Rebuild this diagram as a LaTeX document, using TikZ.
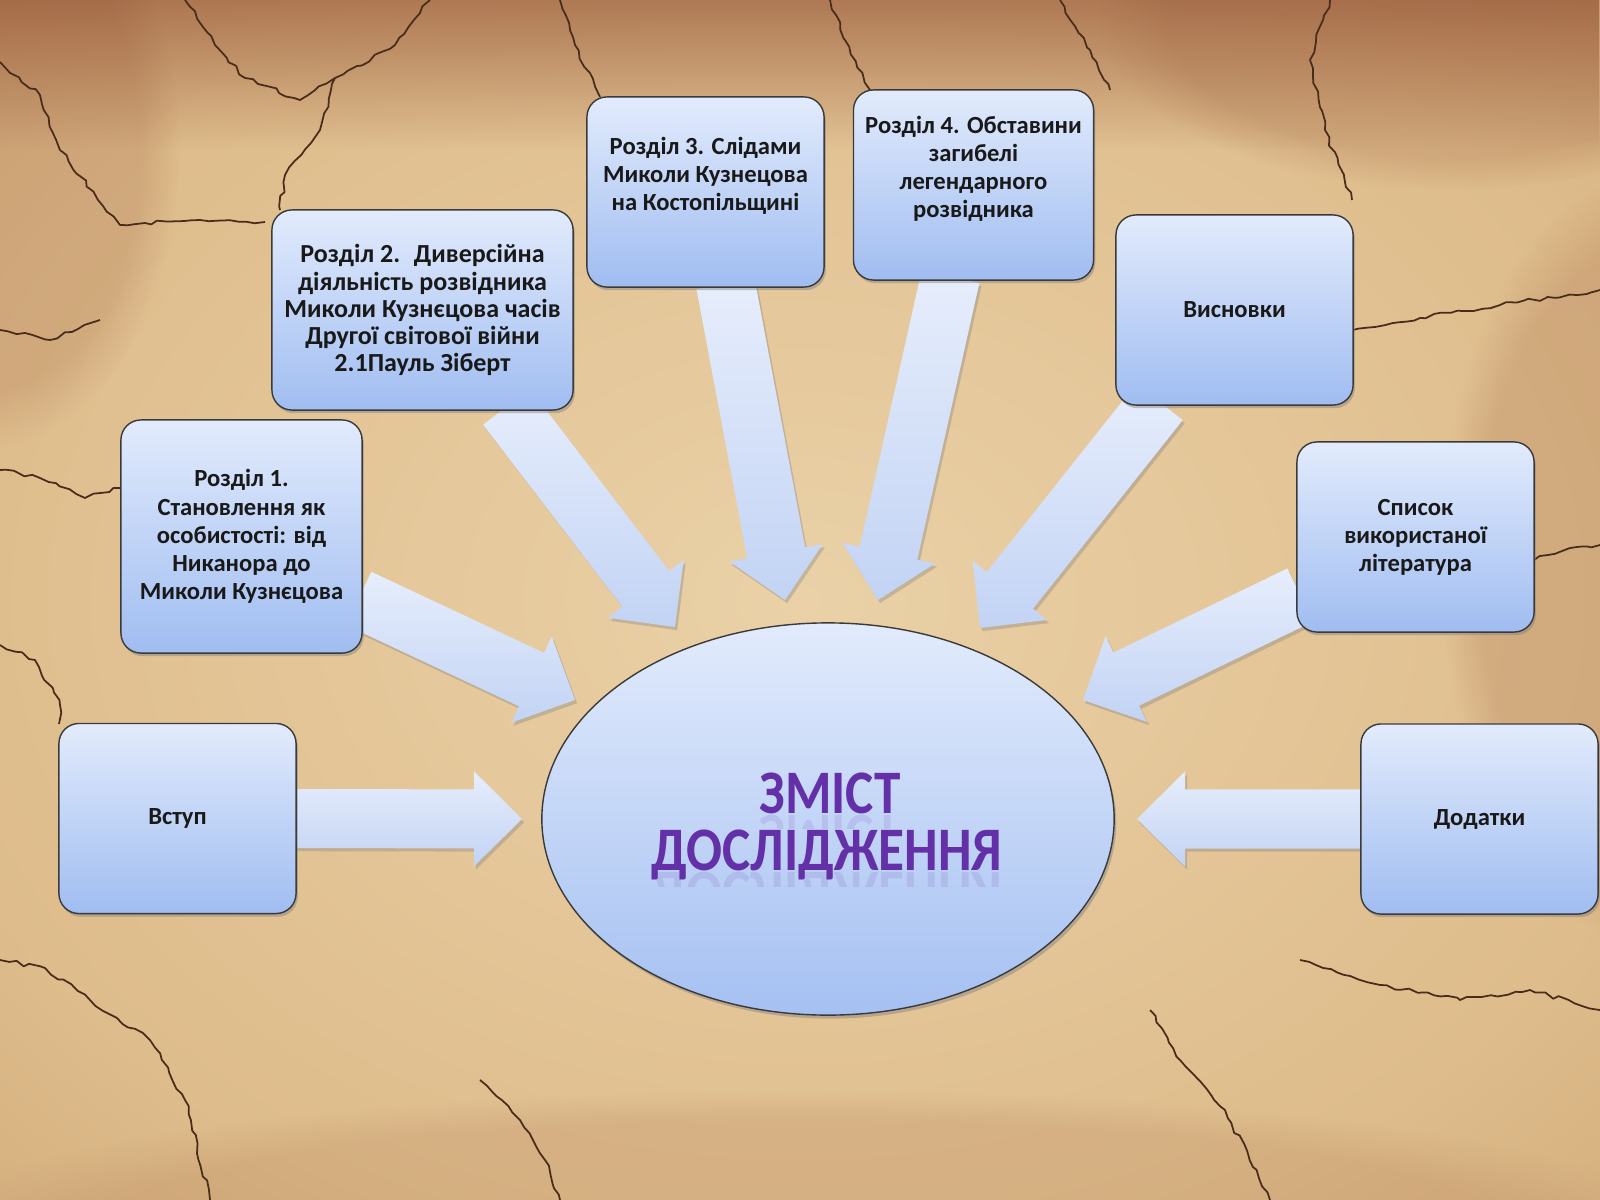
\documentclass[tikz,border=0pt]{standalone}
\usepackage{fontspec}
\usepackage{graphicx}
\setmainfont{Carlito}
\usetikzlibrary{calc,shapes.geometric,shadows,fadings,decorations.pathmorphing}

\definecolor{bglight}{HTML}{EAD1A7}
\definecolor{bgmid}{HTML}{DEBC8B}
\definecolor{bgedge}{HTML}{C69A69}
\definecolor{bgdark}{HTML}{9E6C47}
\definecolor{stain}{HTML}{8E4B2E}
\definecolor{crack}{HTML}{4A2C1B}
\definecolor{boxtop}{HTML}{E2EBFC}
\definecolor{boxbot}{HTML}{A0BDF1}
\definecolor{boxline}{HTML}{3A3A3A}
\definecolor{arrtop}{HTML}{E7EEFC}
\definecolor{arrbot}{HTML}{C2D3F4}
\definecolor{titlecol}{HTML}{6430A8}

\pgfdeclareradialshading{parchment}{\pgfpoint{0bp}{0bp}}{color(0bp)=(bglight); color(28bp)=(bgmid); color(52bp)=(bgedge); color(72bp)=(bgdark)}
\tikzfading[name=fadetop, top color=transparent!0, bottom color=transparent!100]

\pgfdeclarelayer{back}
\pgfdeclarelayer{mid}
\pgfsetlayers{back,mid,main}

\tikzset{
  topic/.style={draw=boxline, line width=0.4pt, rounded corners=0.2cm,
    top color=boxtop, bottom color=boxbot, minimum width=2.37cm,
    minimum height=1.9cm, align=center, text=black!90,
    font=\fontsize{7}{8}\selectfont\bfseries,
    drop shadow={shadow xshift=0.5pt, shadow yshift=-0.9pt, opacity=0.45}},
  hub/.style={ellipse, draw=boxline, line width=0.4pt,
    top color=boxtop, bottom color=boxbot!95!white,
    minimum width=5.72cm, minimum height=3.92cm,
    drop shadow={shadow xshift=0.6pt, shadow yshift=-1pt, opacity=0.45}},
  bigarr/.style={top color=arrtop, bottom color=arrbot,
    drop shadow={shadow xshift=0.6pt, shadow yshift=-0.9pt, opacity=0.35}},
  crackline/.style={crack, line width=0.5pt, line join=round, decorate,
    decoration={random steps, segment length=2.2pt, amplitude=0.6pt}},
  heading/.style={text=titlecol, font=\fontsize{17.6}{17.6}\selectfont\bfseries},
}

% block arrow from tail (#1) to tip (#2)
\newcommand{\bigarrow}[2]{%
  \coordinate (ta) at (#1);
  \coordinate (tb) at (#2);
  \coordinate (th) at ($(tb)!0.48cm!(ta)$);
  \path[bigarr] ($(ta)!0.295cm!90:(tb)$) -- ($(th)!0.295cm!90:(tb)$)
    -- ($(th)!0.475cm!90:(tb)$) -- (tb) -- ($(th)!0.475cm!-90:(tb)$)
    -- ($(th)!0.295cm!-90:(tb)$) -- ($(ta)!0.295cm!-90:(tb)$) -- cycle;
}

\pgfmathsetseed{17}

\begin{document}
\begin{tikzpicture}[x=0.01cm, y=-0.01cm]
	\useasboundingbox (0,0) rectangle (1600,1200);

	% parchment
	\begin{pgfonlayer}{back}
		\shade[shading=parchment] (0,0) rectangle (1600,1200);
		\fill[stain, path fading=fadetop, opacity=0.6] (0,0) rectangle (1600,150);
		\fill[stain, opacity=0.18, path fading=circle with fuzzy edge 20 percent] (1640,560) ellipse (200 and 380);
		\fill[stain, opacity=0.18, path fading=circle with fuzzy edge 20 percent] (1450,20) ellipse (350 and 170);
		\fill[stain, opacity=0.18, path fading=circle with fuzzy edge 20 percent] (-20,150) ellipse (200 and 300);
		\fill[stain, opacity=0.12, path fading=circle with fuzzy edge 20 percent] (800,1240) ellipse (900 and 150);

		\draw[crackline] (0,62) -- (40,95) -- (60,150) -- (120,225) -- (200,220) -- (265,222);
		\draw[crackline] (185,0) -- (215,45) -- (245,78) -- (300,100) -- (335,78) -- (395,45) -- (430,0);
		\draw[crackline] (335,78) -- (320,130) -- (285,175) -- (280,210);
		\draw[crackline] (0,330) -- (50,340) -- (100,320);
		\draw[crackline] (0,470) -- (40,478) -- (85,498) -- (121,488);
		\draw[crackline] (0,645) -- (35,660) -- (60,705) -- (59,724);
		\draw[crackline] (0,960) -- (45,968) -- (90,1000) -- (150,1040) -- (185,1100) -- (210,1200);
		\draw[crackline] (480,1080) -- (520,1120) -- (545,1160) -- (560,1200);
		\draw[crackline] (1150,1010) -- (1180,1060) -- (1225,1110) -- (1270,1200);
		\draw[crackline] (1300,960) -- (1380,985) -- (1460,1000) -- (1530,990) -- (1600,1010);
		\draw[crackline] (1353,330) -- (1420,318) -- (1500,305) -- (1600,290);
		\draw[crackline] (1534,560) -- (1570,548) -- (1600,545);
		\draw[crackline] (1330,0) -- (1310,60) -- (1325,130) -- (1352,200);
		\draw[crackline] (560,0) -- (575,45) -- (600,97);
		\draw[crackline] (830,0) -- (845,40) -- (870,90);
		\draw[crackline] (1060,0) -- (1090,50) -- (1110,90);
	\end{pgfonlayer}

	% topics
	\node[topic] (vstup) at (177.5,818.5) {Вступ};
	\node[topic, minimum width=2.41cm, minimum height=2.33cm] (rozd1) at (241.5,536.5) {Розділ 1.\\Становлення як\\особистості: від\\Никанора до\\Миколи Кузнєцова};
	\node[topic, minimum width=3.01cm, minimum height=2cm, font=\fontsize{7.4}{7.7}\selectfont\bfseries] (rozd2) at (422.5,310) {Розділ 2.~ Диверсійна\\діяльність розвідника\\Миколи Кузнєцова часів\\Другої світової війни\\2.1Пауль Зіберт};
	\node[topic] (rozd3) at (705.5,192) {Розділ 3. Слідами\\Миколи Кузнецова\\на Костопільщині\\\strut};
	\node[topic, minimum width=2.39cm] (rozd4) at (973.5,185) {Розділ 4. Обставини\\загибелі\\легендарного\\розвідника\\\strut};
	\node[topic] (vysn) at (1234.5,310) {Висновки};
	\node[topic] (spysok) at (1415.5,537) {Список\\використаної\\література};
	\node[topic] (dodat) at (1479.5,819) {Додатки};

	% centre
	\node[hub] (zmist) at (828,819) {};
	\node[heading, anchor=base] (title1) at (830,813) {\scalebox{0.86}[1]{ЗМІСТ}};
	\node[heading, anchor=base] (title2) at (827,870) {\scalebox{0.86}[1]{ДОСЛІДЖЕННЯ}};
	\begin{scope}
		\clip (600,814) rectangle (1060,828);
		\node[heading, anchor=base, opacity=0.12] (refl1) at (830,815) {\scalebox{0.86}[-1]{ЗМІСТ}};
	\end{scope}
	\begin{scope}
		\clip (600,871) rectangle (1060,886);
		\node[heading, anchor=base, opacity=0.12] (refl2) at (827,872) {\scalebox{0.86}[-1]{ДОСЛІДЖЕННЯ}};
	\end{scope}

	% arrow tips
	\coordinate (e1) at (522,819);
	\coordinate (e2) at (575,700);
	\coordinate (e3) at (675,627);
	\coordinate (e4) at (785,600);
	\coordinate (e5) at (878,600);
	\coordinate (e6) at (980,628);
	\coordinate (e7) at (1083,700);
	\coordinate (e8) at (1137,819);

	\begin{pgfonlayer}{mid}
		\bigarrow{$(vstup.east)+(-4,0)$}{e1}
		\bigarrow{$(rozd1.east)+(-4,62)$}{e2}
		\bigarrow{$(rozd2.south)+(84,-4)$}{e3}
		\bigarrow{$(rozd3.south)+(20,-4)$}{e4}
		\bigarrow{$(rozd4.south)+(-23,-4)$}{e5}
		\bigarrow{$(vysn.south)+(-75,-4)$}{e6}
		\bigarrow{$(spysok.west)+(4,58)$}{e7}
		\bigarrow{$(dodat.west)+(4,0)$}{e8}
	\end{pgfonlayer}
\end{tikzpicture}
\end{document}
